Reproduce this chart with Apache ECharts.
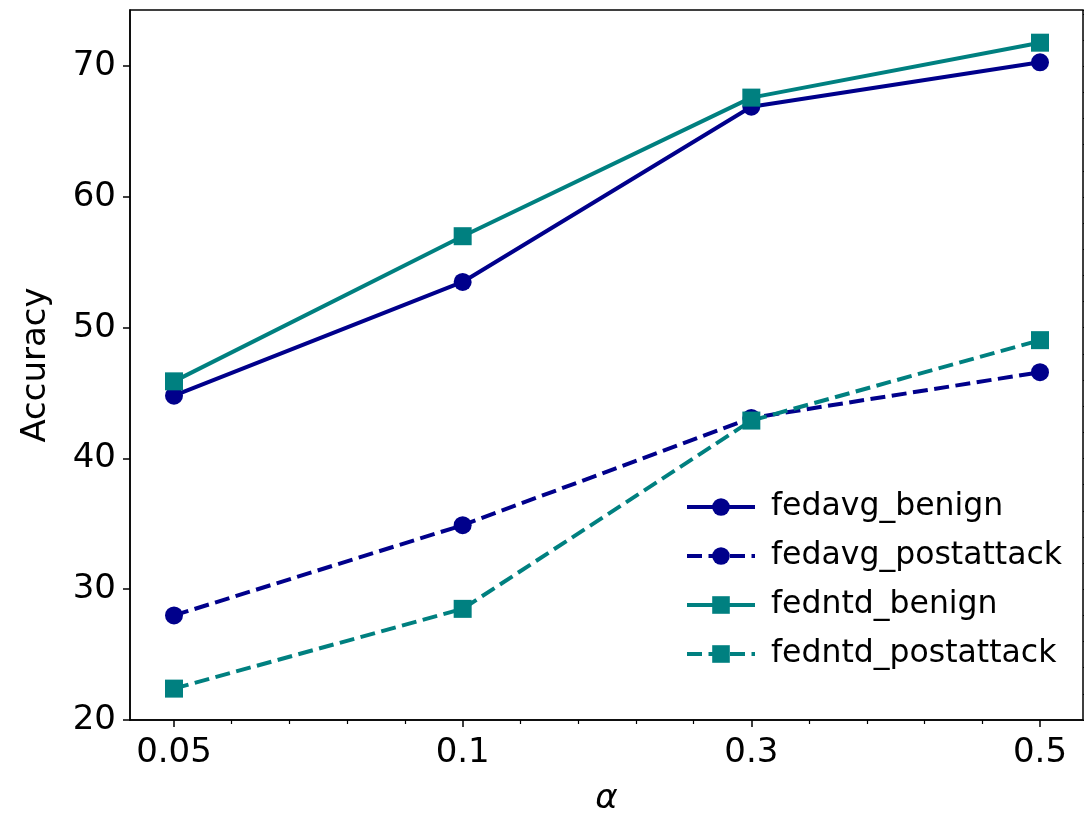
<!DOCTYPE html>
<html>
<head>
<meta charset="utf-8">
<script src="https://cdn.jsdelivr.net/npm/echarts@6/dist/echarts.min.js"></script>
<style>
    html, body {margin: 0; padding: 0; background: #fff;}
    #chart {width: 1084px; height: 816px;}
</style>
</head>
<body>
<div id="chart"></div>
<script>
// alpha values, plotted at evenly spaced positions
const alphaLabels = ['0.05', '0.1', '0.3', '0.5'];
const fedavgBenign = [44.8, 53.5, 66.9, 70.3];
const fedavgPostattack = [28.0, 34.9, 43.1, 46.6];
const fedntdBenign = [45.9, 57.0, 67.6, 71.8];
const fedntdPostattack = [22.4, 28.5, 42.9, 49.05];

const yMin = 20, yMax = 74.3;
const font = 'DejaVu Sans';
const navy = '#00008B';
const teal = '#008080';

function pairs(vals) {
    let list = [];
    for (let i = 0; i < vals.length; i++) {
        list.push([i, vals[i]]);
    }
    return list;
}

function makeSeries(name, vals, color, symbol, dashed) {
    return {
        name: name,
        type: 'line',
        xAxisIndex: 1,
        yAxisIndex: 2,
        data: pairs(vals),
        symbol: symbol,
        symbolSize: 18,
        showSymbol: true,
        lineStyle: {color: color, width: 4, type: dashed ? [15, 6.5] : 'solid'},
        itemStyle: {color: color},
        emphasis: {disabled: true},
        z: 3
    };
}

let chart = echarts.init(document.getElementById('chart'), null, {renderer: 'canvas'});
chart.setOption({
    animation: false,
    textStyle: {fontFamily: font},
    grid: [
        // frame + y axis
        {left: 130, right: 1, top: 10, bottom: 96, outerBoundsMode: 'none', containLabel: false,
            show: true, borderColor: '#000', borderWidth: 1.5, backgroundColor: 'transparent'},
        // data area (inset so the points sit away from the frame)
        {left: 174, right: 44, top: 10, bottom: 96, outerBoundsMode: 'none', containLabel: false}
    ],
    xAxis: [
        {
            gridIndex: 0, type: 'value', min: 0, max: 1,
            name: 'α', nameLocation: 'middle', nameGap: 62,
            nameTextStyle: {fontSize: 34, fontStyle: 'italic', color: '#000', fontFamily: font},
            axisLine: {show: true, lineStyle: {color: '#000', width: 1.5}},
            axisTick: {show: false}, axisLabel: {show: false}, splitLine: {show: false}
        },
        {
            gridIndex: 1, type: 'value', min: 0, max: 3, interval: 1,
            axisLine: {show: false},
            axisTick: {show: true, inside: false, length: 7, lineStyle: {color: '#000', width: 1.5}},
            minorTick: {show: true, splitNumber: 5, length: 4, lineStyle: {color: '#000', width: 1.2}},
            axisLabel: {
                margin: 16, fontSize: 34, color: '#000', fontFamily: font,
                formatter: function (v) { return alphaLabels[Math.round(v)]; }
            },
            splitLine: {show: false}
        }
    ],
    yAxis: [
        {
            gridIndex: 0, type: 'value', min: yMin, max: yMax, interval: 10,
            name: 'Accuracy', nameLocation: 'middle', nameGap: 77,
            nameTextStyle: {fontSize: 34, color: '#000', fontFamily: font},
            axisLine: {show: true, lineStyle: {color: '#000', width: 1.5}},
            axisTick: {show: true, inside: false, length: 7, lineStyle: {color: '#000', width: 1.5}},
            axisLabel: {
                margin: 14, fontSize: 34, color: '#000', fontFamily: font, showMaxLabel: false,
                formatter: function (v) { return v % 10 === 0 ? String(v) : ''; }
            },
            splitLine: {show: false}
        },
        {
            // minor ticks every 2
            gridIndex: 0, type: 'value', min: yMin, max: yMax, interval: 2,
            axisLine: {show: false},
            axisTick: {show: true, inside: false, length: 4, lineStyle: {color: '#000', width: 1.2}},
            axisLabel: {show: false}, splitLine: {show: false}
        },
        {
            gridIndex: 1, type: 'value', min: yMin, max: yMax, show: false
        }
    ],
    legend: {
        orient: 'vertical',
        left: 680, top: 486,
        itemWidth: 68, itemHeight: 22, itemGap: 17,
        lineStyle: {width: 4},
        textStyle: {fontSize: 31.5, color: '#000', fontFamily: font, padding: [0, 0, 0, 11]},
        data: ['fedavg_benign', 'fedavg_postattack', 'fedntd_benign', 'fedntd_postattack']
    },
    series: [
        makeSeries('fedavg_benign', fedavgBenign, navy, 'circle', false),
        makeSeries('fedavg_postattack', fedavgPostattack, navy, 'circle', true),
        makeSeries('fedntd_benign', fedntdBenign, teal, 'rect', false),
        makeSeries('fedntd_postattack', fedntdPostattack, teal, 'rect', true)
    ]
});
</script>
</body>
</html>
